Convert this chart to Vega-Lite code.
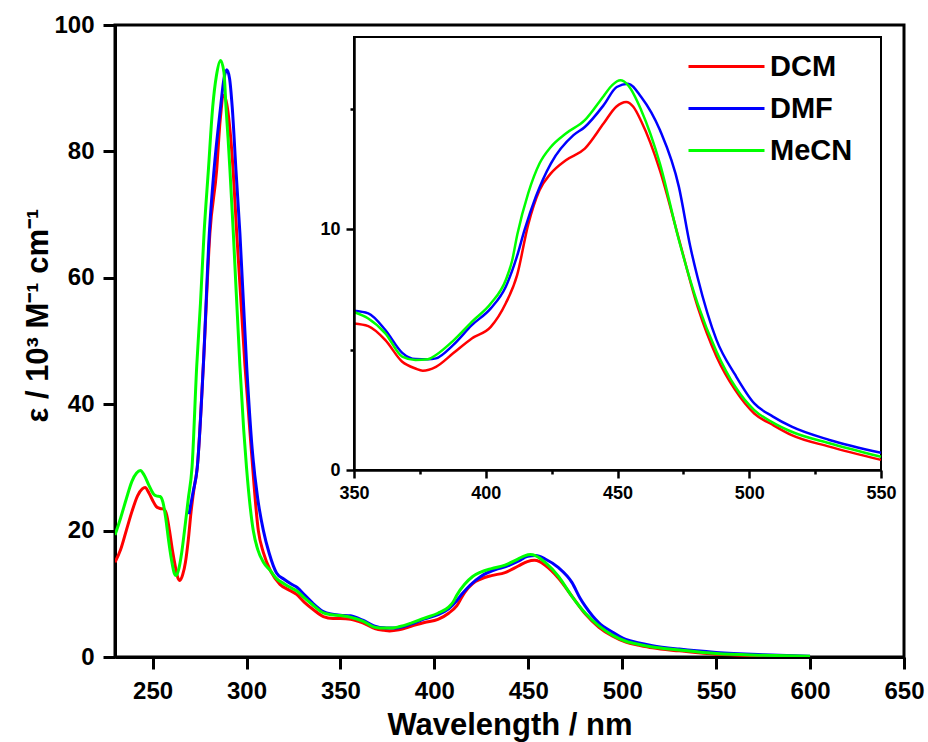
{
  "$schema": "https://vega.github.io/schema/vega-lite/v6.json",
  "width": 789,
  "height": 632,
  "autosize": "none",
  "padding": {"left": 115, "top": 25, "right": 24, "bottom": 85},
  "background": "white",
  "config": {
    "view": {"stroke": "black", "strokeWidth": 3},
    "font": "Liberation Sans"
  },
  "data": {"values": [
    {"s":"DCM","w":230,"e":15.0},{"s":"DCM","w":233,"e":17.0},{"s":"DCM","w":236,"e":20.0},{"s":"DCM","w":239,"e":23.0},{"s":"DCM","w":242,"e":25.5},{"s":"DCM","w":244.5,"e":26.6},{"s":"DCM","w":246,"e":26.8},{"s":"DCM","w":248,"e":26.0},{"s":"DCM","w":250,"e":24.8},{"s":"DCM","w":252,"e":23.8},{"s":"DCM","w":254,"e":23.5},{"s":"DCM","w":256,"e":23.4},{"s":"DCM","w":257.5,"e":22.5},{"s":"DCM","w":259,"e":20.0},{"s":"DCM","w":260.5,"e":17.0},{"s":"DCM","w":262,"e":14.5},{"s":"DCM","w":263.5,"e":12.5},{"s":"DCM","w":264.5,"e":12.1},{"s":"DCM","w":266,"e":13.0},{"s":"DCM","w":267.5,"e":15.0},{"s":"DCM","w":269,"e":18.5},{"s":"DCM","w":270.5,"e":23.0},{"s":"DCM","w":272,"e":26.5},{"s":"DCM","w":273.8,"e":30},{"s":"DCM","w":277,"e":46},{"s":"DCM","w":280.5,"e":67},{"s":"DCM","w":284.1,"e":77},{"s":"DCM","w":286,"e":85},{"s":"DCM","w":288,"e":88.9},{"s":"DCM","w":289.5,"e":87.5},{"s":"DCM","w":291,"e":84},{"s":"DCM","w":292.9,"e":77},{"s":"DCM","w":294.8,"e":67},{"s":"DCM","w":299.2,"e":46},{"s":"DCM","w":302.5,"e":33},{"s":"DCM","w":306.3,"e":20},{"s":"DCM","w":309,"e":16.5},{"s":"DCM","w":313,"e":13.5},{"s":"DCM","w":317.8,"e":11.5},{"s":"DCM","w":322,"e":10.7},{"s":"DCM","w":326.7,"e":9.9},{"s":"DCM","w":331,"e":8.6},{"s":"DCM","w":336,"e":7.4},{"s":"DCM","w":340.9,"e":6.4},{"s":"DCM","w":346,"e":6.1},{"s":"DCM","w":350,"e":6.09},{"s":"DCM","w":355.4,"e":5.98},{"s":"DCM","w":361.9,"e":5.40},{"s":"DCM","w":368.3,"e":4.50},{"s":"DCM","w":373.3,"e":4.22},{"s":"DCM","w":376.1,"e":4.13},{"s":"DCM","w":381.1,"e":4.29},{"s":"DCM","w":387.6,"e":4.85},{"s":"DCM","w":394.7,"e":5.47},{"s":"DCM","w":401.9,"e":5.95},{"s":"DCM","w":407.6,"e":6.93},{"s":"DCM","w":411.9,"e":8.1},{"s":"DCM","w":416.1,"e":10.2},{"s":"DCM","w":420.4,"e":11.63},{"s":"DCM","w":424.7,"e":12.33},{"s":"DCM","w":430.4,"e":12.88},{"s":"DCM","w":437.6,"e":13.36},{"s":"DCM","w":444.7,"e":14.40},{"s":"DCM","w":449.5,"e":15.1},{"s":"DCM","w":453.3,"e":15.30},{"s":"DCM","w":456,"e":15.1},{"s":"DCM","w":459,"e":14.5},{"s":"DCM","w":466.1,"e":12.46},{"s":"DCM","w":473.3,"e":9.6},{"s":"DCM","w":480.4,"e":6.79},{"s":"DCM","w":487.6,"e":4.71},{"s":"DCM","w":494.7,"e":3.32},{"s":"DCM","w":501.9,"e":2.35},{"s":"DCM","w":509,"e":1.87},{"s":"DCM","w":516.1,"e":1.45},{"s":"DCM","w":530.4,"e":0.97},{"s":"DCM","w":550,"e":0.42},{"s":"DCM","w":575,"e":0.2},{"s":"DCM","w":600,"e":0.05},
    {"s":"DMF","w":269.4,"e":22.6},{"s":"DMF","w":271.5,"e":26},{"s":"DMF","w":273.8,"e":30},{"s":"DMF","w":277,"e":46},{"s":"DMF","w":280.2,"e":67},{"s":"DMF","w":282.7,"e":77},{"s":"DMF","w":286.2,"e":87},{"s":"DMF","w":288,"e":91.5},{"s":"DMF","w":289.5,"e":92.9},{"s":"DMF","w":291,"e":91.5},{"s":"DMF","w":292.4,"e":87},{"s":"DMF","w":294.4,"e":77},{"s":"DMF","w":296.5,"e":67},{"s":"DMF","w":300.1,"e":46},{"s":"DMF","w":303,"e":33},{"s":"DMF","w":306,"e":25},{"s":"DMF","w":309,"e":20},{"s":"DMF","w":312,"e":16.5},{"s":"DMF","w":316,"e":13.3},{"s":"DMF","w":320,"e":12.3},{"s":"DMF","w":324,"e":11.5},{"s":"DMF","w":327,"e":11.0},{"s":"DMF","w":331,"e":9.8},{"s":"DMF","w":335,"e":8.6},{"s":"DMF","w":340.9,"e":7.2},{"s":"DMF","w":345,"e":6.8},{"s":"DMF","w":350,"e":6.62},{"s":"DMF","w":355.4,"e":6.51},{"s":"DMF","w":361.9,"e":5.82},{"s":"DMF","w":368.3,"e":4.87},{"s":"DMF","w":373.3,"e":4.61},{"s":"DMF","w":378,"e":4.6},{"s":"DMF","w":381.1,"e":4.64},{"s":"DMF","w":387.6,"e":5.19},{"s":"DMF","w":394.7,"e":6.02},{"s":"DMF","w":401.9,"e":6.72},{"s":"DMF","w":407.6,"e":7.62},{"s":"DMF","w":411.9,"e":8.9},{"s":"DMF","w":414.7,"e":9.97},{"s":"DMF","w":419,"e":11.36},{"s":"DMF","w":424.7,"e":12.74},{"s":"DMF","w":433.3,"e":13.92},{"s":"DMF","w":437.6,"e":14.26},{"s":"DMF","w":444.7,"e":15.16},{"s":"DMF","w":449.7,"e":15.92},{"s":"DMF","w":454,"e":16.06},{"s":"DMF","w":459,"e":15.51},{"s":"DMF","w":466.1,"e":14.13},{"s":"DMF","w":473.3,"e":11.77},{"s":"DMF","w":477.6,"e":9.3},{"s":"DMF","w":480.4,"e":8.0},{"s":"DMF","w":487.6,"e":5.40},{"s":"DMF","w":494.7,"e":3.95},{"s":"DMF","w":501.9,"e":2.77},{"s":"DMF","w":509,"e":2.22},{"s":"DMF","w":516.1,"e":1.80},{"s":"DMF","w":530.4,"e":1.25},{"s":"DMF","w":550,"e":0.72},{"s":"DMF","w":575,"e":0.35},{"s":"DMF","w":600,"e":0.12},
    {"s":"MeCN","w":230,"e":19.3},{"s":"MeCN","w":233,"e":22.0},{"s":"MeCN","w":236,"e":25.0},{"s":"MeCN","w":239,"e":27.8},{"s":"MeCN","w":241.5,"e":29.1},{"s":"MeCN","w":243.5,"e":29.5},{"s":"MeCN","w":245.5,"e":28.8},{"s":"MeCN","w":248,"e":27.2},{"s":"MeCN","w":250.5,"e":25.8},{"s":"MeCN","w":252,"e":25.5},{"s":"MeCN","w":254,"e":25.4},{"s":"MeCN","w":255.5,"e":24.5},{"s":"MeCN","w":257,"e":22.0},{"s":"MeCN","w":258.5,"e":18.5},{"s":"MeCN","w":260,"e":15.5},{"s":"MeCN","w":261.5,"e":13.3},{"s":"MeCN","w":262.5,"e":12.9},{"s":"MeCN","w":264,"e":14.0},{"s":"MeCN","w":265.5,"e":16.5},{"s":"MeCN","w":267,"e":20.0},{"s":"MeCN","w":269,"e":25.0},{"s":"MeCN","w":271,"e":30.0},{"s":"MeCN","w":273.5,"e":46},{"s":"MeCN","w":275.5,"e":56},{"s":"MeCN","w":277.4,"e":67},{"s":"MeCN","w":279.7,"e":77},{"s":"MeCN","w":282,"e":87},{"s":"MeCN","w":284,"e":92},{"s":"MeCN","w":286.2,"e":94.4},{"s":"MeCN","w":288,"e":92.5},{"s":"MeCN","w":289.1,"e":87},{"s":"MeCN","w":290.2,"e":82},{"s":"MeCN","w":291.2,"e":77},{"s":"MeCN","w":293,"e":67},{"s":"MeCN","w":296.5,"e":46},{"s":"MeCN","w":298.5,"e":36},{"s":"MeCN","w":300,"e":30},{"s":"MeCN","w":303.6,"e":20},{"s":"MeCN","w":306,"e":17},{"s":"MeCN","w":309,"e":15},{"s":"MeCN","w":312.9,"e":13.6},{"s":"MeCN","w":316,"e":12.4},{"s":"MeCN","w":320,"e":11.6},{"s":"MeCN","w":324,"e":10.9},{"s":"MeCN","w":327,"e":10.4},{"s":"MeCN","w":331,"e":9.3},{"s":"MeCN","w":335,"e":8.3},{"s":"MeCN","w":340.9,"e":7.0},{"s":"MeCN","w":345,"e":6.7},{"s":"MeCN","w":350,"e":6.57},{"s":"MeCN","w":355.4,"e":6.3},{"s":"MeCN","w":361.9,"e":5.68},{"s":"MeCN","w":368.3,"e":4.71},{"s":"MeCN","w":373.3,"e":4.57},{"s":"MeCN","w":378,"e":4.6},{"s":"MeCN","w":381.1,"e":4.78},{"s":"MeCN","w":387.6,"e":5.37},{"s":"MeCN","w":394.7,"e":6.16},{"s":"MeCN","w":401.9,"e":6.92},{"s":"MeCN","w":407.6,"e":7.9},{"s":"MeCN","w":410,"e":8.7},{"s":"MeCN","w":412,"e":9.8},{"s":"MeCN","w":416.1,"e":11.5},{"s":"MeCN","w":420.4,"e":12.74},{"s":"MeCN","w":424.7,"e":13.43},{"s":"MeCN","w":430.4,"e":13.99},{"s":"MeCN","w":437.6,"e":14.54},{"s":"MeCN","w":444.7,"e":15.54},{"s":"MeCN","w":448,"e":16.0},{"s":"MeCN","w":451.1,"e":16.2},{"s":"MeCN","w":454,"e":16.0},{"s":"MeCN","w":459,"e":14.96},{"s":"MeCN","w":466.1,"e":12.74},{"s":"MeCN","w":473.3,"e":9.56},{"s":"MeCN","w":480.4,"e":6.92},{"s":"MeCN","w":487.6,"e":4.92},{"s":"MeCN","w":494.7,"e":3.46},{"s":"MeCN","w":501.9,"e":2.49},{"s":"MeCN","w":509,"e":1.97},{"s":"MeCN","w":516.1,"e":1.59},{"s":"MeCN","w":530.4,"e":1.11},{"s":"MeCN","w":550,"e":0.55},{"s":"MeCN","w":575,"e":0.28},{"s":"MeCN","w":600,"e":0.1}
  ]},
  "layer": [
    {
      "mark": {"type": "line", "strokeWidth": 3, "clip": true, "interpolate": "monotone"},
      "encoding": {
        "x": {
          "field": "w", "type": "quantitative",
          "scale": {"domain": [230, 650], "nice": false, "zero": false},
          "axis": {
            "values": [250, 300, 350, 400, 450, 500, 550, 600, 650],
            "title": "Wavelength / nm",
            "titleFont": "Liberation Sans", "titleFontSize": 31, "titleFontWeight": "bold", "titleColor": "black",
            "titleBaseline": "alphabetic", "titleY": 77,
            "labelFont": "Liberation Sans", "labelFontSize": 24, "labelFontWeight": "bold", "labelColor": "black",
            "labelPadding": 10, "labelFlush": false,
            "domainColor": "black", "domainWidth": 3,
            "tickColor": "black", "tickWidth": 3, "tickSize": 12,
            "grid": false
          }
        },
        "y": {
          "field": "e", "type": "quantitative",
          "scale": {"domain": [0, 100], "nice": false},
          "axis": {
            "values": [0, 20, 40, 60, 80, 100],
            "title": "ε / 10³ M⁻¹ cm⁻¹",
            "titleFont": "Liberation Sans", "titleFontSize": 31, "titleFontWeight": "bold", "titleColor": "black",
            "titleAngle": -90, "titleAlign": "center", "titleBaseline": "alphabetic",
            "titleX": -68, "titleY": 290,
            "labelFont": "Liberation Sans", "labelFontSize": 24, "labelFontWeight": "bold", "labelColor": "black",
            "labelPadding": 9, "labelFlush": false,
            "domainColor": "black", "domainWidth": 3,
            "tickColor": "black", "tickWidth": 3, "tickSize": 12,
            "grid": false
          }
        },
        "color": {
          "field": "s", "type": "nominal",
          "scale": {"domain": ["DCM", "DMF", "MeCN"], "range": ["#ff0000", "#0000ff", "#00ff00"]},
          "legend": {
            "orient": "none", "legendX": 591, "legendY": 21, "padding": 0,
            "title": null,
            "symbolType": "M-2,0H2", "symbolSize": 1444, "symbolStrokeWidth": 3,
            "labelFont": "Liberation Sans", "labelFontSize": 29, "labelFontWeight": "bold", "labelColor": "black",
            "labelOffset": 23, "rowPadding": 6
          }
        }
      }
    },
    {
      "data": {"values": [{"x1": 350, "x2": 550, "y1": 0, "y2": 18}]},
      "mark": {"type": "rect", "fill": "white", "stroke": "black", "strokeWidth": 2},
      "encoding": {
        "x": {
          "field": "x1", "type": "quantitative",
          "scale": {"domain": [350, 550], "range": [239, 766], "nice": false, "zero": false},
          "axis": {
            "orient": "bottom", "offset": -187, "zindex": 2,
            "values": [350, 400, 450, 500, 550],
            "title": null, "ticks": true, "domain": true,
            "labelFont": "Liberation Sans", "labelFontSize": 18, "labelFontWeight": "bold", "labelColor": "black",
            "labelPadding": 6, "labelFlush": false,
            "domainColor": "black", "domainWidth": 2.5,
            "tickColor": "black", "tickWidth": 2.5, "tickSize": 8,
            "grid": false
          }
        },
        "x2": {"field": "x2"},
        "y": {
          "field": "y1", "type": "quantitative",
          "scale": {"domain": [0, 18], "range": [445, 12], "nice": false},
          "axis": {
            "orient": "left", "offset": -239, "zindex": 2,
            "values": [0, 10],
            "title": null, "ticks": true, "domain": true,
            "labelFont": "Liberation Sans", "labelFontSize": 18, "labelFontWeight": "bold", "labelColor": "black",
            "labelPadding": 6, "labelFlush": false,
            "domainColor": "black", "domainWidth": 2.5,
            "tickColor": "black", "tickWidth": 2.5, "tickSize": 8,
            "grid": false
          }
        },
        "y2": {"field": "y2"}
      }
    },
    {
      "transform": [{"filter": "datum.w >= 350 && datum.w <= 550"}],
      "mark": {"type": "line", "strokeWidth": 2.5, "interpolate": "monotone"},
      "encoding": {
        "x": {
          "field": "w", "type": "quantitative",
          "scale": {"domain": [350, 550], "range": [239, 766], "nice": false, "zero": false},
          "axis": {
            "orient": "bottom", "offset": -187, "zindex": 2,
            "values": [375, 425, 475, 525],
            "title": null, "labels": false, "domain": false, "ticks": true,
            "tickColor": "black", "tickWidth": 2.5, "tickSize": 4,
            "grid": false
          }
        },
        "y": {
          "field": "e", "type": "quantitative",
          "scale": {"domain": [0, 18], "range": [445, 12], "nice": false},
          "axis": {
            "orient": "left", "offset": -239, "zindex": 2,
            "values": [5, 15],
            "title": null, "labels": false, "domain": false, "ticks": true,
            "tickColor": "black", "tickWidth": 2.5, "tickSize": 4,
            "grid": false
          }
        },
        "color": {"field": "s", "type": "nominal", "legend": null}
      }
    }
  ],
  "resolve": {
    "scale": {"x": "independent", "y": "independent"},
    "axis": {"x": "independent", "y": "independent"}
  }
}
